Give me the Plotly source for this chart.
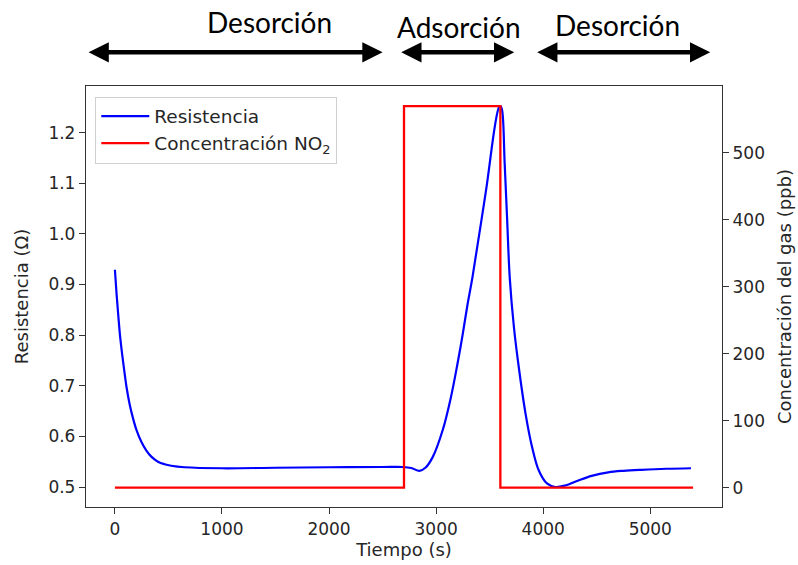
import plotly.graph_objects as go

# Resistance curve
tiempo_res = [0, 16, 31, 46, 62, 78, 108, 139, 170, 201, 248, 294, 340, 402, 464, 526, 649,
              1000, 1500, 2000, 2500, 2690, 2768, 2844, 2900, 2968, 3061, 3139, 3200,
              3247, 3293, 3340, 3464, 3587, 3603, 3618, 3640, 3662, 3688, 3727, 3773,
              3835, 3896, 3958, 4035, 4113, 4206, 4329, 4453, 4607, 4750, 4917, 5150, 5380]
resistencia = [0.929, 0.880, 0.840, 0.803, 0.772, 0.745, 0.698, 0.662, 0.635, 0.613, 0.589,
               0.572, 0.560, 0.550, 0.545, 0.542, 0.539,
               0.537, 0.538, 0.539, 0.5395, 0.5395, 0.5375, 0.532, 0.538, 0.559, 0.612,
               0.678, 0.744, 0.800, 0.860, 0.915, 1.083, 1.250, 1.252, 1.242, 1.140, 1.035,
               0.912, 0.815, 0.735, 0.645, 0.579, 0.533, 0.507, 0.500, 0.503, 0.513, 0.522,
               0.529, 0.532, 0.534, 0.536, 0.537]

# NO2 concentration step (ppb)
tiempo_gas = [0, 2700, 2700, 3600, 3600, 5400]
concentracion = [0, 0, 570, 570, 0, 0]

# Phase labels
fases = ["Desorción", "Adsorción", "Desorción"]
fase_inicio = [-260, 2660, 3930]
fase_fin = [2500, 3730, 5560]
fase_centro = [1440, 3210, 4690]
fase_altura = [1.151, 1.139, 1.146]

x_ticks = [0, 1000, 2000, 3000, 4000, 5000]
y_ticks = [0.5, 0.6, 0.7, 0.8, 0.9, 1.0, 1.1, 1.2]
y2_ticks = [0, 100, 200, 300, 400, 500]

font_main = "DejaVu Sans"
txt = "#262626"
fs = 17
fs_title = 18

fig = go.Figure()
fig.add_trace(go.Scatter(x=tiempo_res, y=resistencia, mode="lines", name="Resistencia",
                         line=dict(color="#0000ff", width=2.2, shape="spline", smoothing=1.0)))
fig.add_trace(go.Scatter(x=tiempo_gas, y=concentracion, mode="lines",
                         name="Concentración NO<sub>2</sub>", yaxis="y2",
                         line=dict(color="#ff0000", width=2.3)))

axis_common = dict(showline=True, linecolor="#333333", linewidth=1.3, ticks="outside",
                   ticklen=6, tickcolor="#333333", showgrid=False, zeroline=False,
                   automargin=False,
                   tickfont=dict(family=font_main, size=fs, color=txt))

fig.update_layout(
    width=798, height=565,
    margin=dict(l=86, r=76, t=86, b=58),
    paper_bgcolor="white", plot_bgcolor="white",
    font=dict(family=font_main, size=fs, color=txt),
    xaxis=dict(range=[-270, 5670], tickvals=x_ticks, mirror=True,
               title=dict(text="Tiempo (s)", font=dict(size=fs_title, family=font_main), standoff=5),
               **axis_common),
    yaxis=dict(range=[0.4605, 1.292], tickvals=y_ticks, tickformat=".1f",
               title=dict(text="Resistencia (Ω)", font=dict(size=fs_title, family=font_main), standoff=15),
               **axis_common),
    yaxis2=dict(range=[-29, 600], tickvals=y2_ticks, overlaying="y", side="right",
                title=dict(text="Concentración del gas (ppb)", font=dict(size=fs_title, family=font_main), standoff=14),
                **axis_common),
    legend=dict(x=0.0146, y=0.975, xanchor="left", yanchor="top",
                bordercolor="#d0d0d0", borderwidth=1, bgcolor="rgba(255,255,255,0.8)",
                font=dict(family=font_main, size=18.5, color=txt), tracegroupgap=2,
                itemwidth=48),
    showlegend=True,
)

for x0, x1 in zip(fase_inicio, fase_fin):
    fig.add_annotation(x=x1, y=1.080, ax=x0, ay=0, xref="x", yref="paper",
                       axref="x", ayref="pixel", showarrow=True, text="",
                       arrowhead=2, arrowside="end+start", arrowsize=0.9,
                       arrowwidth=4.5, arrowcolor="black")

for nombre, xc, yc in zip(fases, fase_centro, fase_altura):
    fig.add_annotation(x=xc, y=yc, xref="x", yref="paper", text=nombre, showarrow=False,
                       font=dict(family="Lato", size=28, color="black"), yanchor="middle")

fig.write_html("out.html")
